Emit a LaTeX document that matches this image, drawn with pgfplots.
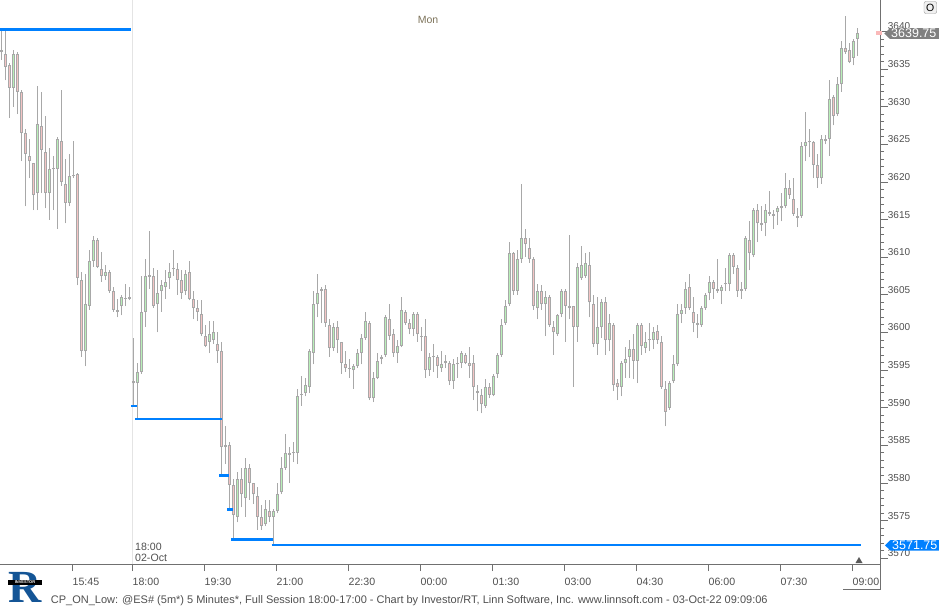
\documentclass[border=0pt]{standalone}
\usepackage{pgfplots}
\pgfplotsset{compat=1.18}
\usepackage{pgfplotstable}
\usepackage{fontspec}
\setmainfont{Liberation Sans}
\newfontfamily\seriffont{Liberation Serif}

\definecolor{wick}{RGB}{168,168,168}
\definecolor{upfill}{RGB}{184,240,184}
\definecolor{dnfill}{RGB}{244,196,196}
\definecolor{onlow}{RGB}{0,128,255}
\definecolor{axisgrey}{RGB}{112,112,112}
\definecolor{txtgrey}{RGB}{80,80,80}
\definecolor{sessline}{RGB}{228,228,228}
\definecolor{mongrey}{RGB}{125,115,90}
\definecolor{lastgrey}{RGB}{128,128,128}
\definecolor{logoblue}{RGB}{20,85,150}
\definecolor{lastpink}{RGB}{250,185,185}

\pgfplotstableread{
b o h l c
-33 3637.5 3640.25 3636.25 3637.25
-32 3637 3640 3633.5 3635.25
-31 3635.5 3635.75 3628.5 3632.5
-30 3632.5 3637.5 3630 3637
-29 3637 3637.25 3629 3632
-28 3632 3632.25 3622.75 3626.5
-27 3626.5 3627 3616.75 3623.75
-26 3623.5 3625.75 3620.5 3622.75
-25 3622.5 3622.5 3616.25 3618.25
-24 3618.5 3632.75 3616.25 3627.75
-23 3627.5 3632 3618.5 3624.25
-22 3624 3628.75 3616.5 3618.5
-21 3618.5 3624.5 3615 3621.75
-20 3621.75 3623.5 3616.25 3621.75
-19 3621.75 3626 3613.75 3625.75
-18 3625.5 3632.25 3619.5 3620
-17 3619.75 3623 3614.5 3617.25
-16 3617.25 3623.75 3616.75 3620.75
-15 3621 3625.5 3620.5 3620.75
-14 3621 3621.25 3606.25 3607.25
-13 3607 3608 3596.75 3597.5
-12 3597.5 3607.75 3595.5 3603.75
-11 3603.5 3611 3603 3609.5
-10 3609.5 3612.75 3608.75 3612.25
-9 3612.25 3612.5 3608.5 3608.75
-8 3608.5 3610.75 3606.75 3607.5
-7 3607.5 3609 3607 3608
-6 3608 3608.25 3605.25 3605.5
-5 3605.5 3606 3602.75 3603
-4 3603 3604.5 3602 3602.75
-3 3603.5 3605 3602.25 3604.75
-2 3604.5 3606.5 3603.5 3604.5
-1 3604.75 3606 3604.25 3604.5
0 3593.25 3599.25 3590.25 3593.5
1 3593.25 3596 3588.5 3594.75
2 3594.75 3607.5 3594.5 3602.75
3 3602.75 3609.75 3600.75 3607.5
4 3607.5 3613.5 3605.75 3607.5
5 3607.5 3608.5 3603.25 3603.5
6 3603.75 3608.25 3600 3605.25
7 3605.5 3607 3602.75 3606.25
8 3606 3608.25 3604.5 3606.75
9 3607.25 3609.25 3605.75 3608
10 3608.5 3611 3607.5 3608.5
11 3608.5 3609.25 3605 3607
12 3607 3608.25 3604.5 3605.25
13 3605.5 3608.25 3605 3607.75
14 3608 3609.5 3604.25 3604.5
15 3604.5 3605.5 3601.75 3603.25
16 3603.25 3604.25 3601.5 3602.75
17 3602.5 3604.25 3599.5 3599.75
18 3599.5 3601 3598 3598.25
19 3598.75 3601.5 3597.25 3599.75
20 3599 3601.5 3598.5 3600
21 3598.5 3600 3596 3597.5
22 3597.5 3598.75 3581 3584.75
23 3585 3587.5 3582.5 3584.75
24 3585 3585.5 3576.5 3579.75
25 3579.75 3580.5 3572.5 3575.75
26 3575.5 3581.5 3574.75 3580.5
27 3580.5 3582 3576.75 3578.5
28 3578 3583.25 3575.5 3582
29 3582 3582.5 3577.75 3580
30 3580 3580 3577.25 3578.5
31 3578.25 3579.5 3573.75 3575.5
32 3575.5 3577 3573.75 3574.25
33 3574.5 3577.75 3574.25 3576.5
34 3576.25 3577.75 3574.75 3575.5
35 3575.5 3576.5 3571.75 3576.25
36 3576.25 3580 3576 3578.5
37 3578.75 3583.5 3578.5 3582
38 3582 3586.5 3581.75 3584
39 3583.75 3584.75 3580 3584
40 3584 3585.5 3582.75 3584
41 3584 3592.5 3582.5 3591.5
42 3591.75 3594.25 3590.25 3591.75
43 3592 3594 3591.5 3593
44 3592.75 3597.75 3592 3597.5
45 3597.25 3605.5 3595.75 3603.75
46 3603.75 3607.75 3602 3605.25
47 3605.75 3606 3601.25 3605.5
48 3605.75 3606.25 3600.75 3601.25
49 3601 3601.75 3596.75 3598
50 3598 3601.25 3597.5 3600.75
51 3600.75 3601.5 3597.25 3599
52 3598.75 3598.75 3594.5 3596
53 3595.75 3597.5 3594.75 3595.25
54 3595.25 3596.5 3594 3595.25
55 3595 3595.75 3592.5 3595.5
56 3595.5 3597.75 3595.25 3597.25
57 3597.25 3599.75 3595.75 3599.25
58 3599.25 3602.75 3599 3601.5
59 3601.25 3601.5 3591 3591.25
60 3591.25 3594.75 3590.75 3594
61 3594 3597.25 3593.75 3596.25
62 3596.5 3597 3595.75 3596.75
63 3597 3602.25 3596.75 3602
64 3601.75 3603.75 3599 3599.5
65 3599.75 3600.5 3596.75 3597.25
66 3597.25 3599 3596 3598.25
67 3598.25 3604.75 3598 3603
68 3602.75 3603 3601 3601.25
69 3601.25 3601.75 3599.75 3600.5
70 3600.5 3602.75 3599.5 3602.5
71 3602.5 3602.75 3598.75 3599.75
72 3599.5 3600.75 3597.5 3599.5
73 3599.5 3601.75 3594 3595
74 3595 3597.25 3594.25 3596.75
75 3596.75 3598.5 3594.75 3596.75
76 3596.75 3597 3594 3595.5
77 3595.25 3597.5 3594.75 3595.75
78 3596 3597 3595.25 3596.25
79 3596 3596.25 3593 3593.5
80 3593.5 3596.5 3592.5 3595.75
81 3595.75 3596.75 3594 3596
82 3596 3597.5 3595.25 3597.25
83 3597 3597.25 3595.75 3596
84 3596 3598 3594 3595.5
85 3596 3597 3591 3592.75
86 3592.25 3593 3589.5 3592
87 3591.75 3592.5 3589.25 3590.5
88 3590.25 3593.75 3590 3592.75
89 3592.75 3593.25 3591.25 3591.75
90 3591.75 3594.5 3591.5 3594.25
91 3594.5 3597.25 3594 3597
92 3597 3601.75 3596.75 3601
93 3601.25 3604.25 3601 3603.5
94 3603.75 3612 3603.5 3610.5
95 3610.5 3610.75 3605 3605.5
96 3605.5 3611 3605 3609.75
97 3609.75 3619.75 3609.25 3612.5
98 3612.5 3613.75 3610 3611.75
99 3611.25 3612.5 3609.25 3609.75
100 3609.75 3610 3603 3603.5
101 3603.25 3606.5 3601.75 3605.5
102 3605.5 3606.25 3603 3603.75
103 3603.75 3605.5 3599.5 3604.75
104 3604.75 3605 3600.75 3601
105 3600.75 3601.5 3597 3600
106 3599.75 3602.5 3599.5 3602.25
107 3602.5 3605.75 3602 3605.5
108 3605.5 3605.75 3598.75 3603.5
109 3603.5 3613 3601.75 3603.25
110 3603.5 3603.5 3592.75 3600.75
111 3600.75 3609.25 3598.75 3608.75
112 3607.25 3611.5 3607 3609
113 3607.5 3610.5 3607.25 3609.25
114 3609 3610.75 3602 3604
115 3603.75 3605 3598 3598.5
116 3598.5 3604.75 3597 3600.75
117 3600.75 3604.5 3599.25 3604
118 3604 3604.75 3597 3599
119 3599 3602.5 3597.5 3601.25
120 3601 3601.25 3592.25 3593
121 3593.25 3593.75 3591 3592.75
122 3592.75 3596.25 3591.5 3596
123 3596 3598 3594 3596.5
124 3596.75 3599 3594 3597.75
125 3597.75 3599.75 3593.75 3596.25
126 3596.25 3601.25 3593.25 3601
127 3601 3601.25 3597 3598.25
128 3598 3600 3597.25 3598.75
129 3599 3601.25 3597.5 3599
130 3599 3600.75 3597.75 3600
131 3600.25 3601 3598.5 3599
132 3598.75 3599.5 3592.5 3592.75
133 3592.5 3593.5 3587.5 3589.5
134 3590 3593.5 3589.75 3593.25
135 3593.5 3597 3593.25 3595.75
136 3595.75 3603.75 3595.5 3602.5
137 3602.5 3603.75 3601.25 3603
138 3603.25 3606.75 3602.5 3605.75
139 3606 3607.75 3603 3603.25
140 3602.75 3604.75 3600 3601.25
141 3601.25 3602.5 3599.25 3601
142 3601 3603.5 3600.75 3603.25
143 3603.25 3605.25 3603 3605
144 3605.25 3607.5 3604.25 3606.75
145 3606.75 3607 3604.5 3605.75
146 3605.75 3609.75 3605.25 3605.5
147 3605.5 3606.25 3603.75 3606
148 3606.5 3608.5 3605.5 3606.5
149 3606.5 3610.5 3605.5 3610.25
150 3610.25 3610.5 3607.75 3608.75
151 3608.5 3609 3604.75 3605.5
152 3605.5 3606.75 3604.5 3605.75
153 3605.75 3612.75 3605.5 3612.5
154 3612.25 3614.75 3608.25 3610.5
155 3610.25 3616.5 3610 3616.25
156 3616.25 3617 3612 3614.5
157 3614.5 3616.75 3613.5 3614.25
158 3614.5 3617 3612.75 3616.25
159 3615.75 3618.75 3615.5 3616
160 3615.75 3616.25 3613.75 3615.5
161 3616 3616.75 3614.25 3616.5
162 3616.5 3618.5 3614.75 3616.75
163 3616.75 3621.25 3616.5 3619.25
164 3619.25 3620.25 3617.75 3618.25
165 3617.75 3620.5 3615.5 3615.75
166 3615.5 3616.5 3614 3615.25
167 3615.5 3625.25 3615.25 3624.75
168 3624.75 3629.25 3622.75 3625.25
169 3625.25 3627 3623.25 3625.5
170 3625.25 3625.5 3620.5 3622.25
171 3622.25 3623.75 3619.25 3620.5
172 3620.5 3626.25 3619.75 3625.75
173 3625.5 3626.25 3625 3625.75
174 3625.75 3633.5 3623.5 3631
175 3631.25 3631.5 3627.5 3628.75
176 3629 3634 3628.75 3633
177 3633 3638.75 3632 3637.75
178 3637.75 3642 3637 3637.25
179 3637.5 3638.5 3635.75 3636
180 3636.5 3639 3635.5 3638.75
181 3639 3640.5 3636.75 3639.75
}\candles

\begin{document}
\begin{tikzpicture}
\fill[white] (0pt,0pt) rectangle (939pt,606pt);
\path[use as bounding box] (0pt,0pt) rectangle (939pt,606pt);
\begin{axis}[
  at={(0pt,42pt)}, anchor=south west,
  width=880.7pt, height=564pt, scale only axis,
  xmin=-33.325, xmax=186.85,
  ymin=3569.225, ymax=3644.175,
  axis x line*=bottom, axis y line*=right,
  axis line style={draw=axisgrey, line width=0.9pt},
  tick align=outside,
  major tick length=7pt, minor tick length=3.3pt,
  every tick/.style={axisgrey, line width=0.8pt},
  xtick={-15.2,-0.2,17.8,35.8,53.8,71.8,89.8,107.8,125.8,143.8,161.8,179.8},
  xticklabels={15:45,18:00,19:30,21:00,22:30,00:00,01:30,03:00,04:30,06:00,07:30,09:00},
  ytick={3570,3575,3580,3585,3590,3595,3600,3605,3610,3615,3620,3625,3630,3635,3640},
  yticklabels={3570,3575,3580,3585,3590,3595,3600,3605,3610,3615,3620,3625,3630,3635,3640},
  minor y tick num=4,
  xticklabel style={anchor=base west, inner sep=0pt, yshift=-14pt, font=\fontsize{10.6}{12}\selectfont, text=txtgrey},
  yticklabel style={anchor=base west, inner sep=0pt, yshift=1.5pt, font=\fontsize{10}{12}\selectfont, text=txtgrey},
  clip=false,
]
% session break line
\addplot[forget plot, sessline, line width=1pt] coordinates {(-0.2,3569.225) (-0.2,3644.175)};
% wicks: low to high
\addplot[forget plot, draw=wick, line width=1pt, mark=none,
  quiver={u=0, v={\thisrow{h}-\thisrow{l}}}]
  table[x=b, y=l] {\candles};
% body outlines
\addplot[forget plot, draw=wick, line width=3.2pt, mark=none,
  quiver={u=0, v={2*max(abs(\thisrow{o}-\thisrow{c})/2,0.07)}}]
  table[x=b, y expr={(\thisrow{o}+\thisrow{c})/2-max(abs(\thisrow{o}-\thisrow{c})/2,0.07)}] {\candles};
% up fills
\addplot[forget plot, draw=upfill, line width=1.2pt, mark=none,
  quiver={u=0, v={2*ifthenelse(\thisrow{c}>\thisrow{o},max(abs(\thisrow{c}-\thisrow{o})/2-0.133,0),0)}}]
  table[x=b, y expr={(\thisrow{o}+\thisrow{c})/2-ifthenelse(\thisrow{c}>\thisrow{o},max(abs(\thisrow{c}-\thisrow{o})/2-0.133,0),0)}] {\candles};
% down fills
\addplot[forget plot, draw=dnfill, line width=1.2pt, mark=none,
  quiver={u=0, v={2*ifthenelse(\thisrow{c}<\thisrow{o},max(abs(\thisrow{c}-\thisrow{o})/2-0.133,0),0)}}]
  table[x=b, y expr={(\thisrow{o}+\thisrow{c})/2-ifthenelse(\thisrow{c}<\thisrow{o},max(abs(\thisrow{c}-\thisrow{o})/2-0.133,0),0)}] {\candles};
% CP_ON_Low levels
\addplot[forget plot, onlow, line width=2.5pt] coordinates {(-33.3,3640.25) (-0.5,3640.25)};
\addplot[forget plot, onlow, line width=2.5pt] coordinates {(-0.6,3590.25) (1,3590.25)};
\addplot[forget plot, onlow, line width=2.5pt] coordinates {(0.5,3588.5) (22.2,3588.5)};
\addplot[forget plot, onlow, line width=2.5pt] coordinates {(21.5,3581) (24,3581)};
\addplot[forget plot, onlow, line width=2.5pt] coordinates {(23.5,3576.5) (25,3576.5)};
\addplot[forget plot, onlow, line width=2.5pt] coordinates {(24.5,3572.5) (35,3572.5)};
\addplot[forget plot, onlow, line width=2.5pt] coordinates {(34.6,3571.75) (182,3571.75)};
\end{axis}

% top label
\node[text=mongrey, font=\fontsize{10.5}{12}\selectfont] at (428pt,586pt) {Mon};
% O button
\draw[rounded corners=2pt, draw=gray!80, fill=gray!12] (924pt,592.5pt) rectangle (936.7pt,604.5pt);
\node[font=\fontsize{10.5}{12}\selectfont] at (930.3pt,598.3pt) {O};
% session date label
\node[anchor=base west, inner sep=0pt, text=txtgrey, font=\fontsize{10.6}{12}\selectfont] at (135pt,55.3pt) {18:00};
\node[anchor=base west, inner sep=0pt, text=txtgrey, font=\fontsize{10.6}{12}\selectfont] at (135pt,44.3pt) {02-Oct};
% last price label
\fill[lastpink] (876pt,571pt) -- (882pt,571pt) -- (882pt,575pt) -- (876pt,575pt) -- cycle;
\fill[lastgrey] (884.3pt,572.4pt) -- (890pt,577.8pt) -- (939pt,577.8pt) -- (939pt,567pt) -- (890pt,567pt) -- cycle;
\node[anchor=west, inner sep=0pt, text=white, font=\fontsize{12.5}{13}\selectfont] at (891pt,572.4pt) {3639.75};
% ON low label
\fill[onlow] (885pt,60.7pt) -- (890.5pt,66pt) -- (939pt,66pt) -- (939pt,55.3pt) -- (890.5pt,55.3pt) -- cycle;
\node[anchor=west, inner sep=0pt, text=white, font=\fontsize{12.5}{13}\selectfont] at (892pt,60.7pt) {3571.75};
% current bar marker
\fill[gray!70!black] (855.5pt,43pt) -- (862.5pt,43pt) -- (859pt,49pt) -- cycle;
% time axis box
\draw[axisgrey, line width=0.9pt] (880.7pt,42pt) -- (880.7pt,17pt) -- (843pt,17pt);
% footer
\node[anchor=base west, inner sep=0pt, text=txtgrey, font=\fontsize{11}{12}\selectfont] at (50.7pt,3pt) {CP\_ON\_Low: @ES\# (5m*) 5 Minutes*, Full Session 18:00-17:00 - Chart by Investor/RT, Linn Software, Inc. www.linnsoft.com - 03-Oct-22 09:09:06};
% logo
\node[text=logoblue, font=\seriffont\bfseries\fontsize{46}{46}\selectfont, inner sep=0pt, anchor=base] at (25pt,4pt) {R};
\fill[black] (8pt,21pt) rectangle (42pt,26pt);
\node[text=white, font=\fontsize{4}{4}\selectfont\bfseries, inner sep=0pt] at (25pt,23.5pt) {INVESTOR};
\end{tikzpicture}
\end{document}
